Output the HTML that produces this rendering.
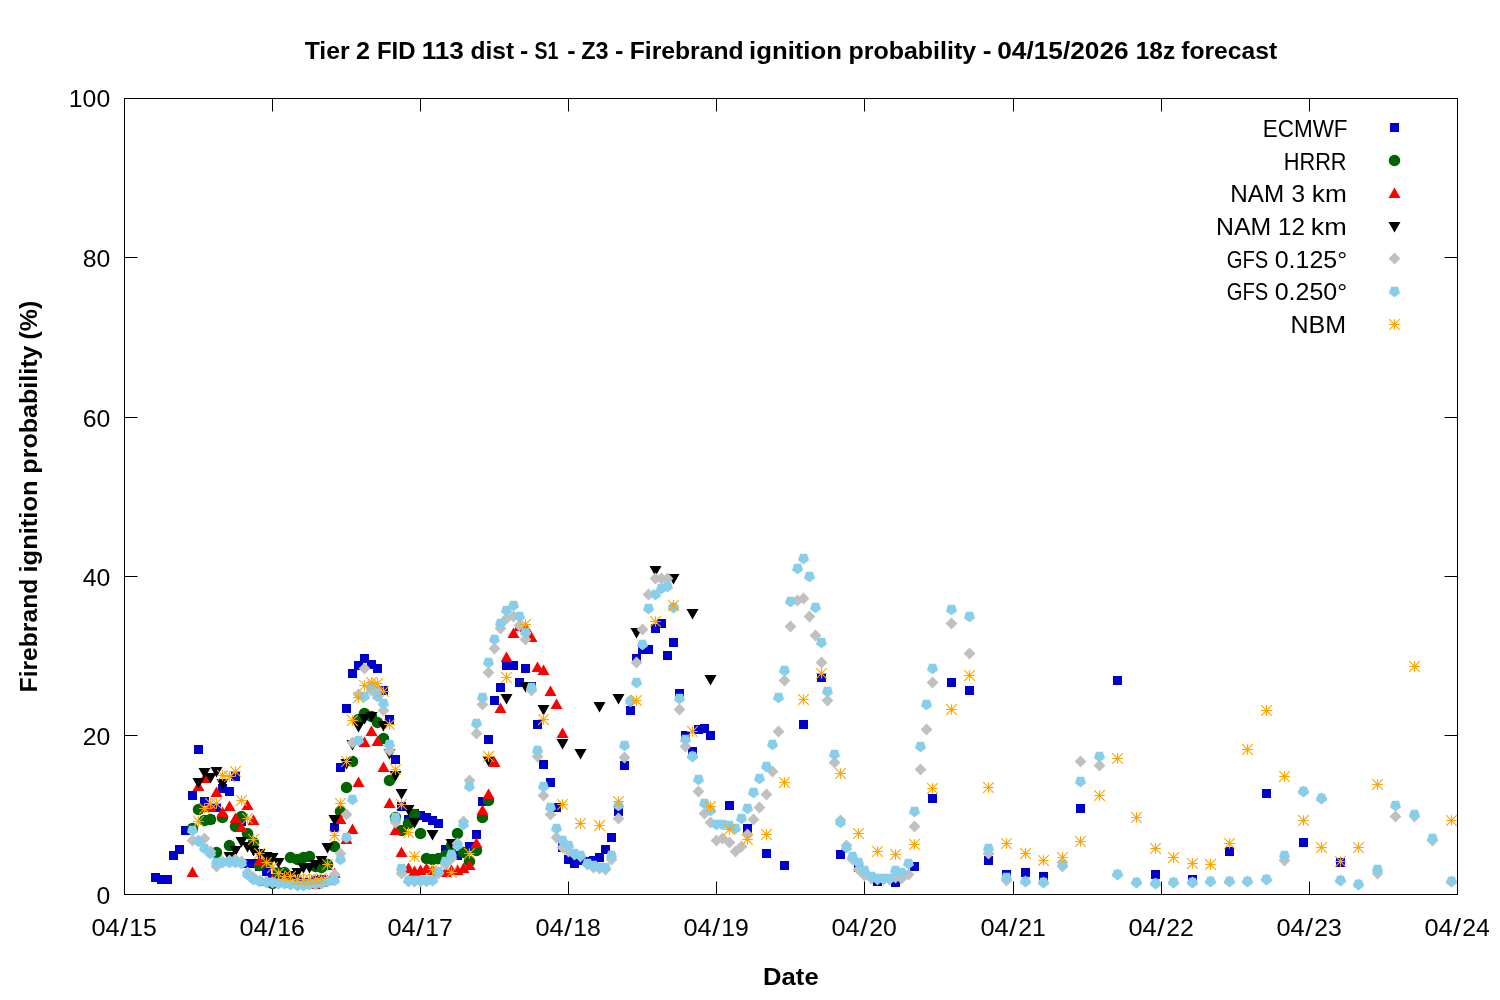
<!DOCTYPE html>
<html lang="en"><head><meta charset="utf-8"><title>Firebrand ignition probability</title>
<style>html,body{margin:0;padding:0;background:#fff}svg{display:block}text{font-family:"Liberation Sans", sans-serif;fill:#000}.b{font-weight:bold}</style></head><body>
<svg width="1500" height="1000" viewBox="0 0 1500 1000">
<rect width="1500" height="1000" fill="#fff"/>
<defs>
<rect id="m1" x="-4.5" y="-4.5" width="9" height="9" fill="#0000cd"/>
<circle id="m2" r="5.75" fill="#006400"/>
<path id="m3" d="M0-6L6 4.4H-6Z" fill="#f00"/>
<path id="m4" d="M0 6L6-4.4H-6Z" fill="#000"/>
<path id="m5" d="M0-5.9L5.9 0L0 5.9L-5.9 0Z" fill="#c0c0c0"/>
<path id="m6" d="M0 5.8L5.52 1.79L3.41-4.69H-3.41L-5.52 1.79Z" fill="#87ceeb"/>
<path id="m7" d="M-5.3 0H5.3M0-5.3V5.3M-5.3-5.3L5.3 5.3M-5.3 5.3L5.3-5.3" stroke="#ffa500" stroke-width="1.15" fill="none"/>
</defs>
<g stroke="#000" stroke-width="1" fill="none">
<rect x="124.5" y="98.5" width="1333" height="796" shape-rendering="crispEdges"/>
<path d="M272.5 894.5v-13M272.5 98.5v13M420.5 894.5v-13M420.5 98.5v13M568.5 894.5v-13M568.5 98.5v13M716.5 894.5v-13M716.5 98.5v13M864.5 894.5v-13M864.5 98.5v13M1013.5 894.5v-13M1013.5 98.5v13M1161.5 894.5v-13M1161.5 98.5v13M1309.5 894.5v-13M1309.5 98.5v13M124.5 735.5h13M1457.5 735.5h-13M124.5 576.5h13M1457.5 576.5h-13M124.5 417.5h13M1457.5 417.5h-13M124.5 257.5h13M1457.5 257.5h-13"/>
</g>
<text y="58.6" font-size="24.5" font-weight="bold"><tspan x="304.70" textLength="51.83" lengthAdjust="spacingAndGlyphs">Tier </tspan><tspan x="355.91" textLength="21.02" lengthAdjust="spacingAndGlyphs">2 </tspan><tspan x="376.90" textLength="45.29" lengthAdjust="spacingAndGlyphs">FID </tspan><tspan x="421.66" textLength="49.57" lengthAdjust="spacingAndGlyphs">113 </tspan><tspan x="470.53" textLength="50.40" lengthAdjust="spacingAndGlyphs">dist </tspan><tspan x="519.92" textLength="15.18" lengthAdjust="spacingAndGlyphs">- </tspan><tspan x="534.59" textLength="29.32" lengthAdjust="spacingAndGlyphs">S1 </tspan><tspan x="567.21" textLength="15.41" lengthAdjust="spacingAndGlyphs">- </tspan><tspan x="581.23" textLength="33.86" lengthAdjust="spacingAndGlyphs">Z3 </tspan><tspan x="614.91" textLength="15.41" lengthAdjust="spacingAndGlyphs">- </tspan><tspan x="629.76" textLength="120.68" lengthAdjust="spacingAndGlyphs">Firebrand </tspan><tspan x="749.09" textLength="100.00" lengthAdjust="spacingAndGlyphs">ignition </tspan><tspan x="848.44" textLength="134.64" lengthAdjust="spacingAndGlyphs">probability </tspan><tspan x="982.88" textLength="16.10" lengthAdjust="spacingAndGlyphs">- </tspan><tspan x="997.18" textLength="138.77" lengthAdjust="spacingAndGlyphs">04/15/2026 </tspan><tspan x="1135.77" textLength="46.18" lengthAdjust="spacingAndGlyphs">18z </tspan><tspan x="1181.21" textLength="96.01" lengthAdjust="spacingAndGlyphs">forecast</tspan></text>
<text y="985.2" font-size="24.5" font-weight="bold"><tspan x="763.10" textLength="55.54" lengthAdjust="spacingAndGlyphs">Date</tspan></text>
<text transform="translate(36.5 690.9) rotate(-90)" y="0" font-size="24.5" font-weight="bold"><tspan x="-1.54" textLength="120.57" lengthAdjust="spacingAndGlyphs">Firebrand </tspan><tspan x="118.40" textLength="99.22" lengthAdjust="spacingAndGlyphs">ignition </tspan><tspan x="217.23" textLength="135.18" lengthAdjust="spacingAndGlyphs">probability </tspan><tspan x="351.43" textLength="38.87" lengthAdjust="spacingAndGlyphs">(%)</tspan></text>
<text y="903.6" font-size="24.8"><tspan x="96.42" textLength="13.79" lengthAdjust="spacingAndGlyphs">0</tspan></text>
<text y="744.6" font-size="24.8"><tspan x="82.63" textLength="27.59" lengthAdjust="spacingAndGlyphs">20</tspan></text>
<text y="585.6" font-size="24.8"><tspan x="82.63" textLength="27.59" lengthAdjust="spacingAndGlyphs">40</tspan></text>
<text y="426.6" font-size="24.8"><tspan x="82.63" textLength="27.59" lengthAdjust="spacingAndGlyphs">60</tspan></text>
<text y="266.6" font-size="24.8"><tspan x="82.63" textLength="27.59" lengthAdjust="spacingAndGlyphs">80</tspan></text>
<text y="107.2" font-size="24.8"><tspan x="68.84" textLength="41.38" lengthAdjust="spacingAndGlyphs">100</tspan></text>
<text y="936.2" font-size="24.8"><tspan x="91.41" textLength="28.22" lengthAdjust="spacingAndGlyphs">04</tspan><tspan x="120.20" textLength="7.80" lengthAdjust="spacingAndGlyphs">/</tspan><tspan x="129.20" textLength="27.59" lengthAdjust="spacingAndGlyphs">15</tspan></text>
<text y="936.2" font-size="24.8"><tspan x="239.41" textLength="28.22" lengthAdjust="spacingAndGlyphs">04</tspan><tspan x="268.20" textLength="7.80" lengthAdjust="spacingAndGlyphs">/</tspan><tspan x="277.20" textLength="27.59" lengthAdjust="spacingAndGlyphs">16</tspan></text>
<text y="936.2" font-size="24.8"><tspan x="387.41" textLength="28.22" lengthAdjust="spacingAndGlyphs">04</tspan><tspan x="416.20" textLength="7.80" lengthAdjust="spacingAndGlyphs">/</tspan><tspan x="425.20" textLength="27.59" lengthAdjust="spacingAndGlyphs">17</tspan></text>
<text y="936.2" font-size="24.8"><tspan x="535.41" textLength="28.22" lengthAdjust="spacingAndGlyphs">04</tspan><tspan x="564.20" textLength="7.80" lengthAdjust="spacingAndGlyphs">/</tspan><tspan x="573.20" textLength="27.59" lengthAdjust="spacingAndGlyphs">18</tspan></text>
<text y="936.2" font-size="24.8"><tspan x="683.41" textLength="28.22" lengthAdjust="spacingAndGlyphs">04</tspan><tspan x="712.20" textLength="7.80" lengthAdjust="spacingAndGlyphs">/</tspan><tspan x="721.20" textLength="27.59" lengthAdjust="spacingAndGlyphs">19</tspan></text>
<text y="936.2" font-size="24.8"><tspan x="831.41" textLength="28.22" lengthAdjust="spacingAndGlyphs">04</tspan><tspan x="860.20" textLength="7.80" lengthAdjust="spacingAndGlyphs">/</tspan><tspan x="869.20" textLength="27.59" lengthAdjust="spacingAndGlyphs">20</tspan></text>
<text y="936.2" font-size="24.8"><tspan x="980.41" textLength="28.22" lengthAdjust="spacingAndGlyphs">04</tspan><tspan x="1009.20" textLength="7.80" lengthAdjust="spacingAndGlyphs">/</tspan><tspan x="1018.20" textLength="27.59" lengthAdjust="spacingAndGlyphs">21</tspan></text>
<text y="936.2" font-size="24.8"><tspan x="1128.41" textLength="28.22" lengthAdjust="spacingAndGlyphs">04</tspan><tspan x="1157.20" textLength="7.80" lengthAdjust="spacingAndGlyphs">/</tspan><tspan x="1166.20" textLength="27.59" lengthAdjust="spacingAndGlyphs">22</tspan></text>
<text y="936.2" font-size="24.8"><tspan x="1276.41" textLength="28.22" lengthAdjust="spacingAndGlyphs">04</tspan><tspan x="1305.20" textLength="7.80" lengthAdjust="spacingAndGlyphs">/</tspan><tspan x="1314.20" textLength="27.59" lengthAdjust="spacingAndGlyphs">23</tspan></text>
<text y="936.2" font-size="24.8"><tspan x="1424.41" textLength="28.22" lengthAdjust="spacingAndGlyphs">04</tspan><tspan x="1453.20" textLength="7.80" lengthAdjust="spacingAndGlyphs">/</tspan><tspan x="1462.20" textLength="27.59" lengthAdjust="spacingAndGlyphs">24</tspan></text>
<text y="137" font-size="24.5"><tspan x="1262.75" textLength="84.79" lengthAdjust="spacingAndGlyphs">ECMWF</tspan></text>
<text y="169.8" font-size="24.5"><tspan x="1283.80" textLength="62.75" lengthAdjust="spacingAndGlyphs">HRRR</tspan></text>
<text y="202.3" font-size="24.5"><tspan x="1230.31" textLength="60.55" lengthAdjust="spacingAndGlyphs">NAM </tspan><tspan x="1291.44" textLength="20.32" lengthAdjust="spacingAndGlyphs">3 </tspan><tspan x="1311.86" textLength="35.00" lengthAdjust="spacingAndGlyphs">km</tspan></text>
<text y="234.9" font-size="24.5"><tspan x="1216.06" textLength="62.00" lengthAdjust="spacingAndGlyphs">NAM </tspan><tspan x="1277.98" textLength="33.75" lengthAdjust="spacingAndGlyphs">12 </tspan><tspan x="1310.81" textLength="36.09" lengthAdjust="spacingAndGlyphs">km</tspan></text>
<text y="267.7" font-size="24.5"><tspan x="1226.85" textLength="47.10" lengthAdjust="spacingAndGlyphs">GFS </tspan><tspan x="1274.72" textLength="72.48" lengthAdjust="spacingAndGlyphs">0.125°</tspan></text>
<text y="300.3" font-size="24.5"><tspan x="1226.85" textLength="47.10" lengthAdjust="spacingAndGlyphs">GFS </tspan><tspan x="1274.72" textLength="72.48" lengthAdjust="spacingAndGlyphs">0.250°</tspan></text>
<text y="333" font-size="24.5"><tspan x="1290.54" textLength="55.64" lengthAdjust="spacingAndGlyphs">NBM</tspan></text>
<clipPath id="c"><rect x="0" y="0" width="1500" height="1000"/></clipPath>
<g id="s1">
<use href="#m1" x="155.5" y="877.5"/><use href="#m1" x="161.5" y="879.5"/><use href="#m1" x="167.5" y="879.5"/><use href="#m1" x="173.5" y="855.5"/><use href="#m1" x="179.5" y="849.5"/><use href="#m1" x="185.5" y="830.5"/><use href="#m1" x="192.5" y="795.5"/><use href="#m1" x="198.5" y="749.5"/><use href="#m1" x="204.5" y="801.5"/><use href="#m1" x="210.5" y="819.5"/><use href="#m1" x="216.5" y="807.5"/><use href="#m1" x="222.5" y="788.5"/><use href="#m1" x="229.5" y="791.5"/><use href="#m1" x="235.5" y="776.5"/><use href="#m1" x="241.5" y="821.5"/><use href="#m1" x="247.5" y="863.5"/><use href="#m1" x="253.5" y="863.5"/><use href="#m1" x="259.5" y="866.5"/><use href="#m1" x="266.5" y="871.5"/><use href="#m1" x="272.5" y="878.5"/><use href="#m1" x="278.5" y="879.5"/><use href="#m1" x="284.5" y="880.5"/><use href="#m1" x="290.5" y="881.5"/><use href="#m1" x="297.5" y="881.5"/><use href="#m1" x="303.5" y="882.5"/><use href="#m1" x="309.5" y="882.5"/><use href="#m1" x="315.5" y="880.5"/><use href="#m1" x="321.5" y="879.5"/><use href="#m1" x="327.5" y="865.5"/><use href="#m1" x="334.5" y="827.5"/><use href="#m1" x="340.5" y="767.5"/><use href="#m1" x="346.5" y="708.5"/><use href="#m1" x="352.5" y="673.5"/><use href="#m1" x="358.5" y="665.5"/><use href="#m1" x="364.5" y="658.5"/><use href="#m1" x="371.5" y="664.5"/><use href="#m1" x="377.5" y="668.5"/><use href="#m1" x="383.5" y="690.5"/><use href="#m1" x="389.5" y="719.5"/><use href="#m1" x="395.5" y="759.5"/><use href="#m1" x="401.5" y="806.5"/><use href="#m1" x="408.5" y="819.5"/><use href="#m1" x="414.5" y="813.5"/><use href="#m1" x="420.5" y="815.5"/><use href="#m1" x="426.5" y="817.5"/><use href="#m1" x="432.5" y="820.5"/><use href="#m1" x="438.5" y="823.5"/><use href="#m1" x="445.5" y="849.5"/><use href="#m1" x="451.5" y="847.5"/><use href="#m1" x="457.5" y="855.5"/><use href="#m1" x="463.5" y="852.5"/><use href="#m1" x="469.5" y="846.5"/><use href="#m1" x="476.5" y="834.5"/><use href="#m1" x="482.5" y="801.5"/><use href="#m1" x="488.5" y="739.5"/><use href="#m1" x="494.5" y="700.5"/><use href="#m1" x="500.5" y="687.5"/><use href="#m1" x="506.5" y="665.5"/><use href="#m1" x="513.5" y="665.5"/><use href="#m1" x="519.5" y="682.5"/><use href="#m1" x="525.5" y="668.5"/><use href="#m1" x="531.5" y="686.5"/><use href="#m1" x="537.5" y="724.5"/><use href="#m1" x="543.5" y="764.5"/><use href="#m1" x="550.5" y="782.5"/><use href="#m1" x="556.5" y="807.5"/><use href="#m1" x="562.5" y="847.5"/><use href="#m1" x="568.5" y="859.5"/><use href="#m1" x="574.5" y="863.5"/><use href="#m1" x="580.5" y="860.5"/><use href="#m1" x="587.5" y="861.5"/><use href="#m1" x="593.5" y="860.5"/><use href="#m1" x="599.5" y="857.5"/><use href="#m1" x="605.5" y="849.5"/><use href="#m1" x="611.5" y="837.5"/><use href="#m1" x="618.5" y="811.5"/><use href="#m1" x="624.5" y="765.5"/><use href="#m1" x="630.5" y="710.5"/><use href="#m1" x="636.5" y="658.5"/><use href="#m1" x="642.5" y="649.5"/><use href="#m1" x="648.5" y="649.5"/><use href="#m1" x="655.5" y="628.5"/><use href="#m1" x="661.5" y="623.5"/><use href="#m1" x="667.5" y="655.5"/><use href="#m1" x="673.5" y="642.5"/><use href="#m1" x="679.5" y="693.5"/><use href="#m1" x="685.5" y="735.5"/><use href="#m1" x="692.5" y="751.5"/><use href="#m1" x="698.5" y="729.5"/><use href="#m1" x="704.5" y="728.5"/><use href="#m1" x="710.5" y="735.5"/><use href="#m1" x="729.5" y="805.5"/><use href="#m1" x="747.5" y="828.5"/><use href="#m1" x="766.5" y="853.5"/><use href="#m1" x="784.5" y="865.5"/><use href="#m1" x="803.5" y="724.5"/><use href="#m1" x="821.5" y="677.5"/><use href="#m1" x="840.5" y="854.5"/><use href="#m1" x="858.5" y="867.5"/><use href="#m1" x="877.5" y="881.5"/><use href="#m1" x="895.5" y="882.5"/><use href="#m1" x="914.5" y="866.5"/><use href="#m1" x="932.5" y="798.5"/><use href="#m1" x="951.5" y="682.5"/><use href="#m1" x="969.5" y="690.5"/><use href="#m1" x="988.5" y="860.5"/><use href="#m1" x="1006.5" y="874.5"/><use href="#m1" x="1025.5" y="872.5"/><use href="#m1" x="1043.5" y="876.5"/><use href="#m1" x="1080.5" y="808.5"/><use href="#m1" x="1117.5" y="680.5"/><use href="#m1" x="1155.5" y="874.5"/><use href="#m1" x="1192.5" y="879.5"/><use href="#m1" x="1229.5" y="851.5"/><use href="#m1" x="1266.5" y="793.5"/><use href="#m1" x="1303.5" y="842.5"/><use href="#m1" x="1340.5" y="862.5"/>
</g>
<g id="s2">
<use href="#m2" x="192.5" y="828.5"/><use href="#m2" x="198.5" y="809.5"/><use href="#m2" x="204.5" y="820.5"/><use href="#m2" x="210.5" y="819.5"/><use href="#m2" x="216.5" y="852.5"/><use href="#m2" x="222.5" y="817.5"/><use href="#m2" x="229.5" y="845.5"/><use href="#m2" x="235.5" y="826.5"/><use href="#m2" x="241.5" y="816.5"/><use href="#m2" x="247.5" y="833.5"/><use href="#m2" x="253.5" y="842.5"/><use href="#m2" x="259.5" y="865.5"/><use href="#m2" x="266.5" y="862.5"/><use href="#m2" x="272.5" y="883.5"/><use href="#m2" x="278.5" y="872.5"/><use href="#m2" x="284.5" y="872.5"/><use href="#m2" x="290.5" y="857.5"/><use href="#m2" x="297.5" y="859.5"/><use href="#m2" x="303.5" y="857.5"/><use href="#m2" x="309.5" y="856.5"/><use href="#m2" x="315.5" y="866.5"/><use href="#m2" x="321.5" y="867.5"/><use href="#m2" x="327.5" y="864.5"/><use href="#m2" x="334.5" y="846.5"/><use href="#m2" x="340.5" y="811.5"/><use href="#m2" x="346.5" y="787.5"/><use href="#m2" x="352.5" y="761.5"/><use href="#m2" x="358.5" y="719.5"/><use href="#m2" x="364.5" y="713.5"/><use href="#m2" x="371.5" y="716.5"/><use href="#m2" x="377.5" y="722.5"/><use href="#m2" x="383.5" y="738.5"/><use href="#m2" x="389.5" y="780.5"/><use href="#m2" x="395.5" y="817.5"/><use href="#m2" x="401.5" y="830.5"/><use href="#m2" x="408.5" y="823.5"/><use href="#m2" x="414.5" y="814.5"/><use href="#m2" x="420.5" y="833.5"/><use href="#m2" x="426.5" y="858.5"/><use href="#m2" x="432.5" y="859.5"/><use href="#m2" x="438.5" y="858.5"/><use href="#m2" x="445.5" y="855.5"/><use href="#m2" x="451.5" y="845.5"/><use href="#m2" x="457.5" y="833.5"/><use href="#m2" x="463.5" y="852.5"/><use href="#m2" x="469.5" y="861.5"/><use href="#m2" x="476.5" y="850.5"/><use href="#m2" x="482.5" y="817.5"/><use href="#m2" x="488.5" y="800.5"/>
</g>
<g id="s3">
<use href="#m3" x="192.5" y="872.5"/><use href="#m3" x="198.5" y="786.5"/><use href="#m3" x="204.5" y="778.5"/><use href="#m3" x="210.5" y="807.5"/><use href="#m3" x="216.5" y="792.5"/><use href="#m3" x="222.5" y="812.5"/><use href="#m3" x="229.5" y="806.5"/><use href="#m3" x="235.5" y="818.5"/><use href="#m3" x="241.5" y="827.5"/><use href="#m3" x="247.5" y="805.5"/><use href="#m3" x="253.5" y="820.5"/><use href="#m3" x="259.5" y="861.5"/><use href="#m3" x="266.5" y="881.5"/><use href="#m3" x="272.5" y="879.5"/><use href="#m3" x="278.5" y="881.5"/><use href="#m3" x="284.5" y="882.5"/><use href="#m3" x="290.5" y="883.5"/><use href="#m3" x="297.5" y="883.5"/><use href="#m3" x="303.5" y="883.5"/><use href="#m3" x="309.5" y="884.5"/><use href="#m3" x="315.5" y="884.5"/><use href="#m3" x="321.5" y="882.5"/><use href="#m3" x="327.5" y="880.5"/><use href="#m3" x="334.5" y="873.5"/><use href="#m3" x="340.5" y="819.5"/><use href="#m3" x="346.5" y="839.5"/><use href="#m3" x="352.5" y="829.5"/><use href="#m3" x="358.5" y="782.5"/><use href="#m3" x="364.5" y="742.5"/><use href="#m3" x="371.5" y="731.5"/><use href="#m3" x="377.5" y="741.5"/><use href="#m3" x="383.5" y="767.5"/><use href="#m3" x="389.5" y="803.5"/><use href="#m3" x="395.5" y="830.5"/><use href="#m3" x="401.5" y="852.5"/><use href="#m3" x="408.5" y="868.5"/><use href="#m3" x="414.5" y="871.5"/><use href="#m3" x="420.5" y="870.5"/><use href="#m3" x="426.5" y="868.5"/><use href="#m3" x="432.5" y="870.5"/><use href="#m3" x="438.5" y="872.5"/><use href="#m3" x="445.5" y="872.5"/><use href="#m3" x="451.5" y="870.5"/><use href="#m3" x="457.5" y="870.5"/><use href="#m3" x="463.5" y="868.5"/><use href="#m3" x="469.5" y="865.5"/><use href="#m3" x="476.5" y="843.5"/><use href="#m3" x="482.5" y="810.5"/><use href="#m3" x="488.5" y="794.5"/><use href="#m3" x="494.5" y="762.5"/><use href="#m3" x="500.5" y="708.5"/><use href="#m3" x="506.5" y="657.5"/><use href="#m3" x="513.5" y="633.5"/><use href="#m3" x="519.5" y="626.5"/><use href="#m3" x="525.5" y="627.5"/><use href="#m3" x="531.5" y="637.5"/><use href="#m3" x="537.5" y="667.5"/><use href="#m3" x="543.5" y="670.5"/><use href="#m3" x="550.5" y="691.5"/><use href="#m3" x="556.5" y="704.5"/><use href="#m3" x="562.5" y="733.5"/>
</g>
<g id="s4">
<use href="#m4" x="198.5" y="782.5"/><use href="#m4" x="204.5" y="772.5"/><use href="#m4" x="210.5" y="777.5"/><use href="#m4" x="216.5" y="771.5"/><use href="#m4" x="222.5" y="783.5"/><use href="#m4" x="229.5" y="856.5"/><use href="#m4" x="235.5" y="850.5"/><use href="#m4" x="241.5" y="841.5"/><use href="#m4" x="247.5" y="846.5"/><use href="#m4" x="253.5" y="850.5"/><use href="#m4" x="259.5" y="853.5"/><use href="#m4" x="266.5" y="856.5"/><use href="#m4" x="272.5" y="857.5"/><use href="#m4" x="278.5" y="862.5"/><use href="#m4" x="284.5" y="875.5"/><use href="#m4" x="290.5" y="875.5"/><use href="#m4" x="297.5" y="872.5"/><use href="#m4" x="303.5" y="867.5"/><use href="#m4" x="309.5" y="867.5"/><use href="#m4" x="315.5" y="864.5"/><use href="#m4" x="321.5" y="860.5"/><use href="#m4" x="327.5" y="847.5"/><use href="#m4" x="334.5" y="819.5"/><use href="#m4" x="346.5" y="763.5"/><use href="#m4" x="352.5" y="744.5"/><use href="#m4" x="358.5" y="726.5"/><use href="#m4" x="364.5" y="718.5"/><use href="#m4" x="371.5" y="716.5"/><use href="#m4" x="383.5" y="725.5"/><use href="#m4" x="389.5" y="753.5"/><use href="#m4" x="395.5" y="775.5"/><use href="#m4" x="401.5" y="793.5"/><use href="#m4" x="408.5" y="809.5"/><use href="#m4" x="414.5" y="822.5"/><use href="#m4" x="432.5" y="834.5"/><use href="#m4" x="451.5" y="843.5"/><use href="#m4" x="488.5" y="760.5"/><use href="#m4" x="506.5" y="698.5"/><use href="#m4" x="525.5" y="686.5"/><use href="#m4" x="543.5" y="709.5"/><use href="#m4" x="562.5" y="743.5"/><use href="#m4" x="580.5" y="753.5"/><use href="#m4" x="599.5" y="706.5"/><use href="#m4" x="618.5" y="698.5"/><use href="#m4" x="636.5" y="632.5"/><use href="#m4" x="655.5" y="570.5"/><use href="#m4" x="673.5" y="578.5"/><use href="#m4" x="692.5" y="613.5"/><use href="#m4" x="710.5" y="679.5"/>
</g>
<g id="s5">
<use href="#m5" x="192.5" y="840.5"/><use href="#m5" x="198.5" y="840.5"/><use href="#m5" x="204.5" y="838.5"/><use href="#m5" x="210.5" y="851.5"/><use href="#m5" x="216.5" y="866.5"/><use href="#m5" x="222.5" y="861.5"/><use href="#m5" x="229.5" y="860.5"/><use href="#m5" x="235.5" y="859.5"/><use href="#m5" x="241.5" y="861.5"/><use href="#m5" x="247.5" y="872.5"/><use href="#m5" x="253.5" y="877.5"/><use href="#m5" x="259.5" y="880.5"/><use href="#m5" x="266.5" y="881.5"/><use href="#m5" x="272.5" y="882.5"/><use href="#m5" x="278.5" y="883.5"/><use href="#m5" x="284.5" y="883.5"/><use href="#m5" x="290.5" y="884.5"/><use href="#m5" x="297.5" y="885.5"/><use href="#m5" x="303.5" y="885.5"/><use href="#m5" x="309.5" y="884.5"/><use href="#m5" x="315.5" y="884.5"/><use href="#m5" x="321.5" y="883.5"/><use href="#m5" x="327.5" y="881.5"/><use href="#m5" x="334.5" y="874.5"/><use href="#m5" x="340.5" y="853.5"/><use href="#m5" x="346.5" y="814.5"/><use href="#m5" x="352.5" y="742.5"/><use href="#m5" x="358.5" y="694.5"/><use href="#m5" x="364.5" y="668.5"/><use href="#m5" x="371.5" y="690.5"/><use href="#m5" x="377.5" y="690.5"/><use href="#m5" x="383.5" y="710.5"/><use href="#m5" x="389.5" y="750.5"/><use href="#m5" x="395.5" y="822.5"/><use href="#m5" x="401.5" y="873.5"/><use href="#m5" x="408.5" y="881.5"/><use href="#m5" x="414.5" y="881.5"/><use href="#m5" x="420.5" y="881.5"/><use href="#m5" x="426.5" y="881.5"/><use href="#m5" x="432.5" y="880.5"/><use href="#m5" x="438.5" y="873.5"/><use href="#m5" x="445.5" y="864.5"/><use href="#m5" x="451.5" y="858.5"/><use href="#m5" x="457.5" y="843.5"/><use href="#m5" x="463.5" y="821.5"/><use href="#m5" x="469.5" y="780.5"/><use href="#m5" x="476.5" y="733.5"/><use href="#m5" x="482.5" y="704.5"/><use href="#m5" x="488.5" y="672.5"/><use href="#m5" x="494.5" y="648.5"/><use href="#m5" x="500.5" y="628.5"/><use href="#m5" x="506.5" y="618.5"/><use href="#m5" x="513.5" y="616.5"/><use href="#m5" x="519.5" y="625.5"/><use href="#m5" x="525.5" y="639.5"/><use href="#m5" x="531.5" y="690.5"/><use href="#m5" x="537.5" y="756.5"/><use href="#m5" x="543.5" y="795.5"/><use href="#m5" x="550.5" y="814.5"/><use href="#m5" x="556.5" y="837.5"/><use href="#m5" x="562.5" y="847.5"/><use href="#m5" x="568.5" y="851.5"/><use href="#m5" x="574.5" y="854.5"/><use href="#m5" x="580.5" y="856.5"/><use href="#m5" x="587.5" y="864.5"/><use href="#m5" x="593.5" y="867.5"/><use href="#m5" x="599.5" y="868.5"/><use href="#m5" x="605.5" y="869.5"/><use href="#m5" x="611.5" y="859.5"/><use href="#m5" x="618.5" y="818.5"/><use href="#m5" x="624.5" y="757.5"/><use href="#m5" x="630.5" y="700.5"/><use href="#m5" x="636.5" y="662.5"/><use href="#m5" x="642.5" y="629.5"/><use href="#m5" x="648.5" y="594.5"/><use href="#m5" x="655.5" y="578.5"/><use href="#m5" x="661.5" y="578.5"/><use href="#m5" x="667.5" y="578.5"/><use href="#m5" x="673.5" y="607.5"/><use href="#m5" x="679.5" y="709.5"/><use href="#m5" x="685.5" y="746.5"/><use href="#m5" x="692.5" y="756.5"/><use href="#m5" x="698.5" y="791.5"/><use href="#m5" x="704.5" y="813.5"/><use href="#m5" x="710.5" y="822.5"/><use href="#m5" x="716.5" y="840.5"/><use href="#m5" x="722.5" y="838.5"/><use href="#m5" x="729.5" y="842.5"/><use href="#m5" x="735.5" y="851.5"/><use href="#m5" x="741.5" y="846.5"/><use href="#m5" x="747.5" y="834.5"/><use href="#m5" x="753.5" y="819.5"/><use href="#m5" x="759.5" y="807.5"/><use href="#m5" x="766.5" y="794.5"/><use href="#m5" x="772.5" y="771.5"/><use href="#m5" x="778.5" y="731.5"/><use href="#m5" x="784.5" y="680.5"/><use href="#m5" x="790.5" y="626.5"/><use href="#m5" x="797.5" y="600.5"/><use href="#m5" x="803.5" y="598.5"/><use href="#m5" x="809.5" y="616.5"/><use href="#m5" x="815.5" y="635.5"/><use href="#m5" x="821.5" y="662.5"/><use href="#m5" x="827.5" y="700.5"/><use href="#m5" x="834.5" y="762.5"/><use href="#m5" x="840.5" y="820.5"/><use href="#m5" x="846.5" y="845.5"/><use href="#m5" x="852.5" y="859.5"/><use href="#m5" x="858.5" y="869.5"/><use href="#m5" x="864.5" y="875.5"/><use href="#m5" x="871.5" y="878.5"/><use href="#m5" x="877.5" y="879.5"/><use href="#m5" x="883.5" y="879.5"/><use href="#m5" x="889.5" y="879.5"/><use href="#m5" x="895.5" y="877.5"/><use href="#m5" x="901.5" y="878.5"/><use href="#m5" x="908.5" y="874.5"/><use href="#m5" x="914.5" y="826.5"/><use href="#m5" x="920.5" y="769.5"/><use href="#m5" x="926.5" y="729.5"/><use href="#m5" x="932.5" y="682.5"/><use href="#m5" x="951.5" y="623.5"/><use href="#m5" x="969.5" y="653.5"/><use href="#m5" x="988.5" y="853.5"/><use href="#m5" x="1006.5" y="880.5"/><use href="#m5" x="1025.5" y="881.5"/><use href="#m5" x="1043.5" y="882.5"/><use href="#m5" x="1062.5" y="866.5"/><use href="#m5" x="1080.5" y="761.5"/><use href="#m5" x="1099.5" y="765.5"/><use href="#m5" x="1117.5" y="874.5"/><use href="#m5" x="1136.5" y="882.5"/><use href="#m5" x="1155.5" y="883.5"/><use href="#m5" x="1173.5" y="882.5"/><use href="#m5" x="1192.5" y="882.5"/><use href="#m5" x="1210.5" y="881.5"/><use href="#m5" x="1229.5" y="881.5"/><use href="#m5" x="1247.5" y="881.5"/><use href="#m5" x="1266.5" y="879.5"/><use href="#m5" x="1284.5" y="860.5"/><use href="#m5" x="1303.5" y="791.5"/><use href="#m5" x="1321.5" y="798.5"/><use href="#m5" x="1340.5" y="880.5"/><use href="#m5" x="1358.5" y="884.5"/><use href="#m5" x="1377.5" y="873.5"/><use href="#m5" x="1395.5" y="816.5"/><use href="#m5" x="1414.5" y="816.5"/><use href="#m5" x="1432.5" y="840.5"/><use href="#m5" x="1451.5" y="881.5"/>
</g>
<g id="s6">
<use href="#m6" x="192.5" y="830.5"/><use href="#m6" x="198.5" y="841.5"/><use href="#m6" x="204.5" y="848.5"/><use href="#m6" x="210.5" y="853.5"/><use href="#m6" x="216.5" y="862.5"/><use href="#m6" x="222.5" y="862.5"/><use href="#m6" x="229.5" y="862.5"/><use href="#m6" x="235.5" y="862.5"/><use href="#m6" x="241.5" y="863.5"/><use href="#m6" x="247.5" y="874.5"/><use href="#m6" x="253.5" y="879.5"/><use href="#m6" x="259.5" y="881.5"/><use href="#m6" x="266.5" y="882.5"/><use href="#m6" x="272.5" y="882.5"/><use href="#m6" x="278.5" y="883.5"/><use href="#m6" x="284.5" y="883.5"/><use href="#m6" x="290.5" y="884.5"/><use href="#m6" x="297.5" y="885.5"/><use href="#m6" x="303.5" y="885.5"/><use href="#m6" x="309.5" y="884.5"/><use href="#m6" x="315.5" y="883.5"/><use href="#m6" x="321.5" y="883.5"/><use href="#m6" x="327.5" y="881.5"/><use href="#m6" x="334.5" y="880.5"/><use href="#m6" x="340.5" y="859.5"/><use href="#m6" x="346.5" y="837.5"/><use href="#m6" x="352.5" y="799.5"/><use href="#m6" x="358.5" y="740.5"/><use href="#m6" x="364.5" y="696.5"/><use href="#m6" x="371.5" y="686.5"/><use href="#m6" x="377.5" y="696.5"/><use href="#m6" x="383.5" y="703.5"/><use href="#m6" x="389.5" y="744.5"/><use href="#m6" x="395.5" y="817.5"/><use href="#m6" x="401.5" y="868.5"/><use href="#m6" x="408.5" y="880.5"/><use href="#m6" x="414.5" y="880.5"/><use href="#m6" x="420.5" y="880.5"/><use href="#m6" x="426.5" y="880.5"/><use href="#m6" x="432.5" y="880.5"/><use href="#m6" x="438.5" y="871.5"/><use href="#m6" x="445.5" y="861.5"/><use href="#m6" x="451.5" y="854.5"/><use href="#m6" x="457.5" y="845.5"/><use href="#m6" x="463.5" y="824.5"/><use href="#m6" x="469.5" y="786.5"/><use href="#m6" x="476.5" y="723.5"/><use href="#m6" x="482.5" y="697.5"/><use href="#m6" x="488.5" y="662.5"/><use href="#m6" x="494.5" y="639.5"/><use href="#m6" x="500.5" y="623.5"/><use href="#m6" x="506.5" y="610.5"/><use href="#m6" x="513.5" y="605.5"/><use href="#m6" x="519.5" y="616.5"/><use href="#m6" x="525.5" y="632.5"/><use href="#m6" x="531.5" y="687.5"/><use href="#m6" x="537.5" y="750.5"/><use href="#m6" x="543.5" y="786.5"/><use href="#m6" x="550.5" y="807.5"/><use href="#m6" x="556.5" y="828.5"/><use href="#m6" x="562.5" y="840.5"/><use href="#m6" x="568.5" y="845.5"/><use href="#m6" x="574.5" y="853.5"/><use href="#m6" x="580.5" y="855.5"/><use href="#m6" x="587.5" y="863.5"/><use href="#m6" x="593.5" y="865.5"/><use href="#m6" x="599.5" y="867.5"/><use href="#m6" x="605.5" y="867.5"/><use href="#m6" x="611.5" y="855.5"/><use href="#m6" x="618.5" y="805.5"/><use href="#m6" x="624.5" y="745.5"/><use href="#m6" x="630.5" y="701.5"/><use href="#m6" x="636.5" y="682.5"/><use href="#m6" x="642.5" y="644.5"/><use href="#m6" x="648.5" y="608.5"/><use href="#m6" x="655.5" y="594.5"/><use href="#m6" x="661.5" y="588.5"/><use href="#m6" x="667.5" y="586.5"/><use href="#m6" x="673.5" y="607.5"/><use href="#m6" x="679.5" y="698.5"/><use href="#m6" x="685.5" y="739.5"/><use href="#m6" x="692.5" y="756.5"/><use href="#m6" x="698.5" y="779.5"/><use href="#m6" x="704.5" y="803.5"/><use href="#m6" x="710.5" y="810.5"/><use href="#m6" x="716.5" y="824.5"/><use href="#m6" x="722.5" y="824.5"/><use href="#m6" x="729.5" y="825.5"/><use href="#m6" x="735.5" y="828.5"/><use href="#m6" x="741.5" y="818.5"/><use href="#m6" x="747.5" y="808.5"/><use href="#m6" x="753.5" y="792.5"/><use href="#m6" x="759.5" y="778.5"/><use href="#m6" x="766.5" y="766.5"/><use href="#m6" x="772.5" y="744.5"/><use href="#m6" x="778.5" y="697.5"/><use href="#m6" x="784.5" y="670.5"/><use href="#m6" x="790.5" y="601.5"/><use href="#m6" x="797.5" y="568.5"/><use href="#m6" x="803.5" y="558.5"/><use href="#m6" x="809.5" y="576.5"/><use href="#m6" x="815.5" y="607.5"/><use href="#m6" x="821.5" y="642.5"/><use href="#m6" x="827.5" y="691.5"/><use href="#m6" x="834.5" y="754.5"/><use href="#m6" x="840.5" y="822.5"/><use href="#m6" x="846.5" y="847.5"/><use href="#m6" x="852.5" y="856.5"/><use href="#m6" x="858.5" y="862.5"/><use href="#m6" x="864.5" y="870.5"/><use href="#m6" x="871.5" y="876.5"/><use href="#m6" x="877.5" y="878.5"/><use href="#m6" x="883.5" y="878.5"/><use href="#m6" x="889.5" y="878.5"/><use href="#m6" x="895.5" y="870.5"/><use href="#m6" x="901.5" y="872.5"/><use href="#m6" x="908.5" y="863.5"/><use href="#m6" x="914.5" y="811.5"/><use href="#m6" x="920.5" y="746.5"/><use href="#m6" x="926.5" y="704.5"/><use href="#m6" x="932.5" y="668.5"/><use href="#m6" x="951.5" y="609.5"/><use href="#m6" x="969.5" y="616.5"/><use href="#m6" x="988.5" y="848.5"/><use href="#m6" x="1006.5" y="877.5"/><use href="#m6" x="1025.5" y="881.5"/><use href="#m6" x="1043.5" y="882.5"/><use href="#m6" x="1062.5" y="864.5"/><use href="#m6" x="1080.5" y="781.5"/><use href="#m6" x="1099.5" y="756.5"/><use href="#m6" x="1117.5" y="874.5"/><use href="#m6" x="1136.5" y="882.5"/><use href="#m6" x="1155.5" y="883.5"/><use href="#m6" x="1173.5" y="882.5"/><use href="#m6" x="1192.5" y="882.5"/><use href="#m6" x="1210.5" y="881.5"/><use href="#m6" x="1229.5" y="881.5"/><use href="#m6" x="1247.5" y="881.5"/><use href="#m6" x="1266.5" y="879.5"/><use href="#m6" x="1284.5" y="855.5"/><use href="#m6" x="1303.5" y="791.5"/><use href="#m6" x="1321.5" y="798.5"/><use href="#m6" x="1340.5" y="880.5"/><use href="#m6" x="1358.5" y="884.5"/><use href="#m6" x="1377.5" y="869.5"/><use href="#m6" x="1395.5" y="805.5"/><use href="#m6" x="1414.5" y="814.5"/><use href="#m6" x="1432.5" y="838.5"/><use href="#m6" x="1451.5" y="881.5"/>
</g>
<g id="s7">
<use href="#m7" x="198.5" y="821.5"/><use href="#m7" x="204.5" y="808.5"/><use href="#m7" x="210.5" y="803.5"/><use href="#m7" x="216.5" y="803.5"/><use href="#m7" x="222.5" y="775.5"/><use href="#m7" x="229.5" y="776.5"/><use href="#m7" x="235.5" y="771.5"/><use href="#m7" x="241.5" y="800.5"/><use href="#m7" x="247.5" y="818.5"/><use href="#m7" x="253.5" y="839.5"/><use href="#m7" x="259.5" y="853.5"/><use href="#m7" x="266.5" y="862.5"/><use href="#m7" x="272.5" y="867.5"/><use href="#m7" x="278.5" y="873.5"/><use href="#m7" x="284.5" y="876.5"/><use href="#m7" x="290.5" y="876.5"/><use href="#m7" x="297.5" y="879.5"/><use href="#m7" x="303.5" y="879.5"/><use href="#m7" x="309.5" y="879.5"/><use href="#m7" x="315.5" y="879.5"/><use href="#m7" x="321.5" y="878.5"/><use href="#m7" x="327.5" y="864.5"/><use href="#m7" x="334.5" y="835.5"/><use href="#m7" x="340.5" y="803.5"/><use href="#m7" x="346.5" y="761.5"/><use href="#m7" x="352.5" y="720.5"/><use href="#m7" x="358.5" y="697.5"/><use href="#m7" x="364.5" y="685.5"/><use href="#m7" x="371.5" y="682.5"/><use href="#m7" x="377.5" y="683.5"/><use href="#m7" x="383.5" y="691.5"/><use href="#m7" x="389.5" y="724.5"/><use href="#m7" x="395.5" y="769.5"/><use href="#m7" x="401.5" y="804.5"/><use href="#m7" x="408.5" y="832.5"/><use href="#m7" x="414.5" y="856.5"/><use href="#m7" x="432.5" y="869.5"/><use href="#m7" x="451.5" y="872.5"/><use href="#m7" x="469.5" y="853.5"/><use href="#m7" x="488.5" y="756.5"/><use href="#m7" x="506.5" y="677.5"/><use href="#m7" x="525.5" y="624.5"/><use href="#m7" x="543.5" y="719.5"/><use href="#m7" x="562.5" y="804.5"/><use href="#m7" x="580.5" y="823.5"/><use href="#m7" x="599.5" y="825.5"/><use href="#m7" x="618.5" y="801.5"/><use href="#m7" x="636.5" y="700.5"/><use href="#m7" x="655.5" y="621.5"/><use href="#m7" x="673.5" y="605.5"/><use href="#m7" x="692.5" y="731.5"/><use href="#m7" x="710.5" y="806.5"/><use href="#m7" x="729.5" y="829.5"/><use href="#m7" x="747.5" y="839.5"/><use href="#m7" x="766.5" y="834.5"/><use href="#m7" x="784.5" y="782.5"/><use href="#m7" x="803.5" y="699.5"/><use href="#m7" x="821.5" y="673.5"/><use href="#m7" x="840.5" y="773.5"/><use href="#m7" x="858.5" y="833.5"/><use href="#m7" x="877.5" y="851.5"/><use href="#m7" x="895.5" y="854.5"/><use href="#m7" x="914.5" y="844.5"/><use href="#m7" x="932.5" y="788.5"/><use href="#m7" x="951.5" y="709.5"/><use href="#m7" x="969.5" y="675.5"/><use href="#m7" x="988.5" y="787.5"/><use href="#m7" x="1006.5" y="843.5"/><use href="#m7" x="1025.5" y="853.5"/><use href="#m7" x="1043.5" y="860.5"/><use href="#m7" x="1062.5" y="857.5"/><use href="#m7" x="1080.5" y="841.5"/><use href="#m7" x="1099.5" y="795.5"/><use href="#m7" x="1117.5" y="758.5"/><use href="#m7" x="1136.5" y="817.5"/><use href="#m7" x="1155.5" y="848.5"/><use href="#m7" x="1173.5" y="857.5"/><use href="#m7" x="1192.5" y="863.5"/><use href="#m7" x="1210.5" y="864.5"/><use href="#m7" x="1229.5" y="843.5"/><use href="#m7" x="1247.5" y="749.5"/><use href="#m7" x="1266.5" y="710.5"/><use href="#m7" x="1284.5" y="776.5"/><use href="#m7" x="1303.5" y="820.5"/><use href="#m7" x="1321.5" y="847.5"/><use href="#m7" x="1340.5" y="861.5"/><use href="#m7" x="1358.5" y="847.5"/><use href="#m7" x="1377.5" y="784.5"/><use href="#m7" x="1414.5" y="666.5"/><use href="#m7" x="1451.5" y="820.5"/>
</g>
<g id="key">
<use href="#m1" x="1394.5" y="127.5"/>
<use href="#m2" x="1394.5" y="160.5"/>
<use href="#m3" x="1394.5" y="193.5"/>
<use href="#m4" x="1394.5" y="226.5"/>
<use href="#m5" x="1394.5" y="258.5"/>
<use href="#m6" x="1394.5" y="291.5"/>
<use href="#m7" x="1394.5" y="324.5"/>
</g>
</svg></body></html>
